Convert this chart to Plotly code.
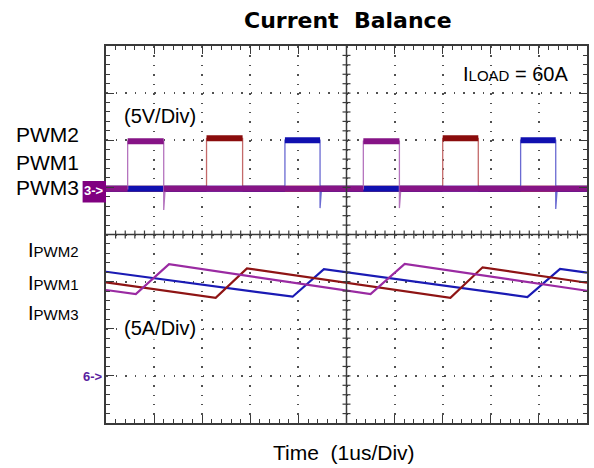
import plotly.graph_objects as go

# ---------------- scope settings ----------------
T_DIV = 1.0      # us per division (10 divisions)
V_DIV = 5.0      # V per division for the PWM channels
I_DIV = 5.0      # A per division for the phase currents
V_REF_DIV = 1    # PWM ground marker, divisions above centre
I_REF_DIV = -3   # current ground marker, divisions above centre

# ---------------- PWM gate signals (edges in us, levels in V) ----------------
pwm2_rise = [0.45, 5.35]
pwm2_fall = [1.20, 6.10]
pwm2_high = 4.9
pwm2_spike = [-2.4, -2.2]

pwm1_rise = [2.09, 7.00]
pwm1_fall = [2.84, 7.74]
pwm1_high = 5.2
pwm1_spike = [-0.15, -0.15]

pwm3_rise = [3.72, 8.62]
pwm3_fall = [4.45, 9.35]
pwm3_high = 5.0
pwm3_spike = [-2.2, -2.3]

pwm_low = -0.15

# ---------------- phase currents (vertices: us, A) ----------------
ipwm2_t = [0.0, 0.62, 1.31, 5.50, 6.21, 10.0]
ipwm2_a = [9.11, 8.68, 11.84, 8.68, 11.87, 9.03]

ipwm1_t = [0.0, 2.28, 2.93, 7.16, 7.83, 10.0]
ipwm1_a = [9.93, 8.29, 11.41, 8.29, 11.52, 9.88]

ipwm3_t = [0.0, 3.88, 4.53, 8.76, 9.44, 10.0]
ipwm3_a = [11.05, 8.40, 11.31, 8.36, 11.34, 10.95]

# ---------------- colours ----------------
PURPLE, PURPLE_EDGE = "#861486", "#B574BE"
RED, RED_EDGE = "#8A0C0C", "#C46A6A"
BLUE, BLUE_EDGE = "#1010B0", "#6A6AD2"
I_PURPLE, I_RED, I_BLUE = "#9A2AA2", "#8E1414", "#1A1AB4"
GRID = "#3A3A3A"

W, H = 594, 468
ML, MR, MT, MB = 106, 5, 46, 45
PW, PH = W - ML - MR, H - MT - MB
N_XDIV, N_YDIV, N_SUB = 10, 8, 5


def px(x):
    return (x - ML) / PW


def py(y):
    return (H - MB - y) / PH


def pwm_wave(rise, fall, high, spike):
    t, v = [0.0], [pwm_low]
    for r, f, s in zip(rise, fall, spike):
        t += [r, r, f, f, f + 0.03]
        v += [pwm_low, high, high, s, pwm_low]
    t.append(N_XDIV * T_DIV)
    v.append(pwm_low)
    return t, v


def pwm_levels(rise, fall, high):
    t, v = [], []
    start = 0.0
    for r, f in zip(rise, fall):
        t += [start, r, None, r, f, None]
        v += [pwm_low, pwm_low, None, high, high, None]
        start = f
    t += [start, N_XDIV * T_DIV]
    v += [pwm_low, pwm_low]
    return t, v


fig = go.Figure()

# phase currents
for t, a, c, name in [
    (ipwm3_t, ipwm3_a, I_BLUE, "IPWM3"),
    (ipwm1_t, ipwm1_a, I_RED, "IPWM1"),
    (ipwm2_t, ipwm2_a, I_PURPLE, "IPWM2"),
]:
    fig.add_trace(go.Scatter(x=t, y=a, mode="lines", name=name, yaxis="y3",
                             line=dict(color=c, width=2.2), showlegend=False))

# PWM signals: thin trace for the edges, heavy trace for the flat levels
for rise, fall, high, spike, col, edge, name in [
    (pwm1_rise, pwm1_fall, pwm1_high, pwm1_spike, RED, RED_EDGE, "PWM1"),
    (pwm3_rise, pwm3_fall, pwm3_high, pwm3_spike, BLUE, BLUE_EDGE, "PWM3"),
    (pwm2_rise, pwm2_fall, pwm2_high, pwm2_spike, PURPLE, PURPLE_EDGE, "PWM2"),
]:
    t, v = pwm_wave(rise, fall, high, spike)
    fig.add_trace(go.Scatter(x=t, y=v, mode="lines", yaxis="y2", name=name,
                             line=dict(color=edge, width=1.3), showlegend=False))
    t, v = pwm_levels(rise, fall, high)
    fig.add_trace(go.Scatter(x=t, y=v, mode="lines", yaxis="y2", name=name,
                             line=dict(color=col, width=6), showlegend=False))

frame = dict(showline=True, linecolor=GRID, linewidth=1.5, mirror="ticks",
             ticks="inside", ticklen=8, tickwidth=1.3, tickcolor=GRID,
             showticklabels=False, zeroline=False, showgrid=True,
             gridcolor="#505050", gridwidth=1.5)

xr = [0, N_XDIV * T_DIV]
yr = [-N_YDIV / 2, N_YDIV / 2]
fig.update_layout(
    width=W, height=H,
    margin=dict(l=ML, r=MR, t=MT, b=MB, pad=0),
    paper_bgcolor="white", plot_bgcolor="white",
    xaxis=dict(range=xr, tick0=0, dtick=T_DIV, griddash="1.5px,7.92px",
               minor=dict(tick0=0, dtick=T_DIV / N_SUB, ticks="inside", ticklen=4,
                          tickwidth=1.2, tickcolor=GRID, showgrid=False),
               **frame),
    yaxis=dict(range=yr, tick0=0, dtick=1, griddash="1.5px,8.16px",
               minor=dict(tick0=0, dtick=1 / N_SUB, ticks="inside", ticklen=4,
                          tickwidth=1.2, tickcolor=GRID, showgrid=False),
               **frame),
    yaxis2=dict(range=[(yr[0] - V_REF_DIV) * V_DIV, (yr[1] - V_REF_DIV) * V_DIV],
                overlaying="y", visible=False),
    yaxis3=dict(range=[(yr[0] - I_REF_DIV) * I_DIV, (yr[1] - I_REF_DIV) * I_DIV],
                overlaying="y", visible=False),
    showlegend=False,
)

# centre cross of the graticule with small ticks on both sides
xc, yc = sum(xr) / 2, 0.0
fig.add_shape(type="line", x0=xr[0], x1=xr[1], y0=yc, y1=yc, xref="x", yref="y",
              line=dict(color=GRID, width=1.5), layer="above")
fig.add_shape(type="line", x0=xc, x1=xc, y0=yr[0], y1=yr[1], xref="x", yref="y",
              line=dict(color=GRID, width=1.5), layer="above")
half_x = 4 / PH * (yr[1] - yr[0])   # 4 px expressed in y units
half_y = 4 / PW * (xr[1] - xr[0])   # 4 px expressed in x units
for k in range(1, N_XDIV * N_SUB):
    xt = xr[0] + k * T_DIV / N_SUB
    fig.add_shape(type="line", x0=xt, x1=xt, y0=yc - half_x, y1=yc + half_x,
                  xref="x", yref="y", line=dict(color=GRID, width=1.2), layer="above")
for k in range(1, N_YDIV * N_SUB):
    yt = yr[0] + k / N_SUB
    fig.add_shape(type="line", x0=xc - half_y, x1=xc + half_y, y0=yt, y1=yt,
                  xref="x", yref="y", line=dict(color=GRID, width=1.2), layer="above")

ARIAL = "Liberation Sans, Arial, sans-serif"


def label(x, y, text, size=20, anchor="left", color="black", family=ARIAL, bg=None):
    fig.add_annotation(x=px(x), y=py(y), xref="paper", yref="paper", text=text,
                       showarrow=False, xanchor=anchor, yanchor="middle",
                       font=dict(family=family, size=size, color=color),
                       bgcolor=bg, borderpad=0)


label(349.5, 20.5, "<b>Current  Balance</b>", size=22, anchor="center",
      family="DejaVu Sans, sans-serif")
label(15, 134.7, "PWM2", size=21)
label(15, 162.5, "PWM1", size=21)
label(15, 187.5, "PWM3", size=21)
label(123, 116, "(5V/Div)", size=20, bg="white")
label(123, 328, "(5A/Div)", size=20, bg="white")
sub = "<span style='font-size:15px'>{}</span>"
label(26.5, 250.3, "I" + sub.format("PWM2"), size=20)
label(26.5, 282.5, "I" + sub.format("PWM1"), size=20)
label(26.5, 313, "I" + sub.format("PWM3"), size=20)
label(463, 74, "I" + sub.format("LOAD") + " = 60A", size=20)
label(273, 452.5, "Time  (1us/Div)", size=21)

# channel ground markers
fig.add_shape(type="rect", xref="paper", yref="paper",
              x0=px(82.5), x1=px(106), y0=py(202.5), y1=py(181),
              fillcolor="#800080", line=dict(width=0))
label(94.3, 190.5, "<b>3-></b>", size=13, anchor="center", color="white")
label(93, 376.5, "<b>6-></b>", size=13, anchor="center", color="#5A1EA0")

fig.write_html("out.html")
